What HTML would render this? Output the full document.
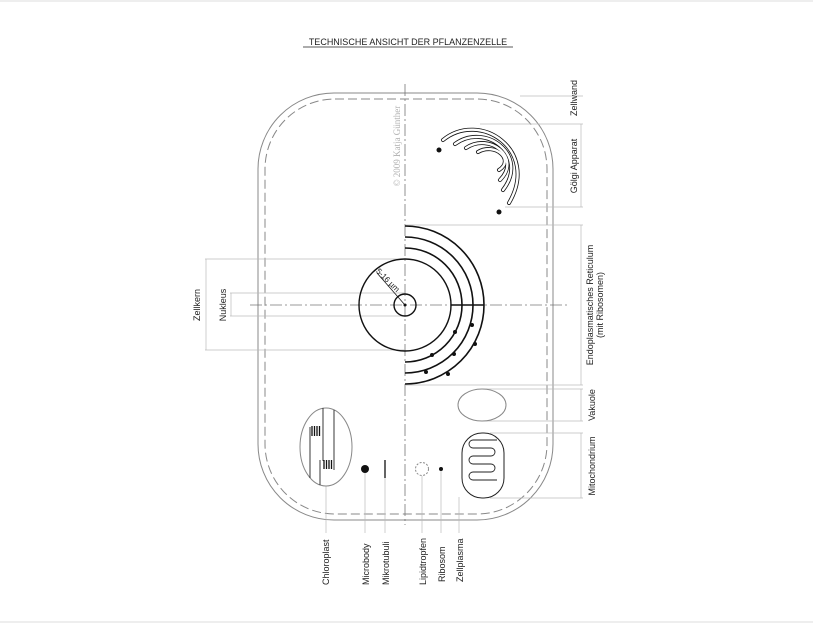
<!DOCTYPE html>
<html><head><style>
html,body{margin:0;padding:0;background:#fff}
svg{display:block}
text{font-family:"Liberation Sans",sans-serif;fill:#222}
</style></head><body>
<svg width="813" height="624" viewBox="0 0 813 624" xmlns="http://www.w3.org/2000/svg">
<line x1="0" y1="1" x2="813" y2="1" stroke="#ddd"/>
<line x1="0" y1="622" x2="813" y2="622" stroke="#ddd"/>
<text x="408" y="45" font-size="9" text-anchor="middle">TECHNISCHE ANSICHT DER PFLANZENZELLE</text>
<line x1="303" y1="47" x2="513" y2="47" stroke="#222" stroke-width="0.8"/>

<rect x="258" y="93" width="295" height="427" rx="76" fill="none" stroke="#888" stroke-width="1"/>
<rect x="265" y="99" width="282" height="415" rx="70" fill="none" stroke="#888" stroke-width="1" stroke-dasharray="9,4"/>
<line x1="405" y1="84" x2="405" y2="525" stroke="#777" stroke-width="0.8" stroke-dasharray="12,3,2,3"/>
<line x1="250" y1="305" x2="570" y2="305" stroke="#777" stroke-width="0.8" stroke-dasharray="12,3,2,3"/>
<text transform="translate(400,146) rotate(-90)" font-size="9" text-anchor="middle" style="font-family:'Liberation Serif',serif;fill:#b0b0b0">© 2009 Katja Günther</text>

<g stroke="#bbb" stroke-width="0.7" fill="none">
<line x1="520" y1="96" x2="583" y2="96"/>
<line x1="480" y1="124" x2="583" y2="124"/>
<line x1="505" y1="207" x2="583" y2="207"/>
<line x1="405" y1="225" x2="583" y2="225"/>
<line x1="405" y1="385" x2="583" y2="385"/>
<line x1="482" y1="389" x2="583" y2="389"/>
<line x1="482" y1="421" x2="583" y2="421"/>
<line x1="490" y1="433" x2="583" y2="433"/>
<line x1="490" y1="498" x2="583" y2="498"/>
<line x1="581" y1="124" x2="581" y2="207"/>
<line x1="581" y1="225" x2="581" y2="385"/>
<line x1="581" y1="389" x2="581" y2="421"/>
<line x1="581" y1="433" x2="581" y2="498"/>
<line x1="205" y1="259" x2="405" y2="259"/>
<line x1="205" y1="350" x2="405" y2="350"/>
<line x1="206" y1="259" x2="206" y2="350"/>
<line x1="230" y1="293" x2="405" y2="293"/>
<line x1="230" y1="316" x2="405" y2="316"/>
<line x1="231" y1="293" x2="231" y2="316"/>
<line x1="326" y1="486" x2="326" y2="533"/>
<line x1="365" y1="469" x2="365" y2="533"/>
<line x1="385" y1="478" x2="385" y2="533"/>
<line x1="422" y1="476" x2="422" y2="533"/>
<line x1="441" y1="469" x2="441" y2="533"/>
<line x1="459" y1="497" x2="459" y2="533"/>
</g>

<circle cx="405" cy="305" r="46" fill="none" stroke="#111" stroke-width="1.4"/>
<circle cx="405" cy="305" r="11" fill="none" stroke="#111" stroke-width="1.4"/>
<circle cx="405" cy="305" r="1.5" fill="#111"/>
<line x1="405" y1="305" x2="377" y2="273" stroke="#111" stroke-width="0.8"/>
<text transform="translate(386,282) rotate(45)" font-size="8" text-anchor="middle">5-16 µm</text>
<g fill="none" stroke="#111" stroke-width="1.6">
<path d="M405,248 A57,57 0 0 1 405,362"/>
<path d="M405,237 A68,68 0 0 1 405,373"/>
<path d="M405,226 A79,79 0 0 1 405,384"/>
<line x1="451" y1="305" x2="484" y2="305"/>
</g>
<g fill="#111">
<circle cx="455" cy="332" r="2"/><circle cx="472" cy="325" r="2"/>
<circle cx="475" cy="344" r="2"/><circle cx="454" cy="354" r="2"/>
<circle cx="432" cy="355" r="2"/><circle cx="426" cy="372" r="2"/>
<circle cx="448" cy="374" r="2"/>
</g>
<g fill="none">
<g stroke="#111" stroke-width="4" stroke-linecap="round">
<path d="M443,140 C480,110 540,150 509,203"/>
<path d="M455,144 C485,122 530,155 503,190"/>
<path d="M466,148 C490,132 522,158 500,180"/>
<path d="M478,152 C495,142 515,160 499,170"/>
</g>
<g stroke="#fff" stroke-width="2.4" stroke-linecap="round">
<path d="M443,140 C480,110 540,150 509,203"/>
<path d="M455,144 C485,122 530,155 503,190"/>
<path d="M466,148 C490,132 522,158 500,180"/>
<path d="M478,152 C495,142 515,160 499,170"/>
</g>
</g>
<circle cx="439" cy="150" r="2.5" fill="#111"/>
<circle cx="499" cy="212" r="2.5" fill="#111"/>
<ellipse cx="482" cy="405" rx="24" ry="16" fill="none" stroke="#888"/>
<rect x="462" y="433" width="42" height="65" rx="20" fill="none" stroke="#222" stroke-width="1"/>
<path d="M497,440 H473 a4,4 0 0 0 0,8 H491 a4,4 0 0 1 0,8 H473 a4,4 0 0 0 0,8 H491 a4,4 0 0 1 0,8 H473 a4,4 0 0 0 0,8 H497" fill="none" stroke="#222" stroke-width="0.9"/>
<ellipse cx="326" cy="447" rx="26" ry="39" fill="none" stroke="#888"/>
<g stroke="#222" stroke-width="0.9">
<line x1="323" y1="408" x2="323" y2="461"/>
<line x1="334" y1="410" x2="334" y2="470"/>
<line x1="310" y1="427" x2="310" y2="478"/>
<line x1="320" y1="460" x2="320" y2="485"/>
</g>
<g stroke="#111" stroke-width="1.3">
<line x1="312" y1="426" x2="312" y2="436"/><line x1="314.5" y1="426" x2="314.5" y2="436"/><line x1="317" y1="426" x2="317" y2="436"/><line x1="319.5" y1="426" x2="319.5" y2="436"/>
<line x1="324" y1="460" x2="324" y2="469"/><line x1="326.5" y1="460" x2="326.5" y2="469"/><line x1="329" y1="460" x2="329" y2="469"/><line x1="331.5" y1="460" x2="331.5" y2="469"/>
</g>
<circle cx="365" cy="469" r="4" fill="#111"/>
<line x1="385" y1="460" x2="385" y2="478" stroke="#111" stroke-width="1.3"/>
<circle cx="422" cy="469" r="6.5" fill="none" stroke="#888" stroke-dasharray="2,1.5"/>
<circle cx="441" cy="469" r="2" fill="#111"/>

<g font-size="9">
<text transform="translate(577,98) rotate(-90)" text-anchor="middle">Zellwand</text>
<text transform="translate(577,166) rotate(-90)" text-anchor="middle">Gölgi Apparat</text>
<text transform="translate(593,305) rotate(-90)" text-anchor="middle">Endoplasmatisches Reticulum</text>
<text transform="translate(603,305) rotate(-90)" text-anchor="middle">(mit Ribosomen)</text>
<text transform="translate(595,405) rotate(-90)" text-anchor="middle">Vakuole</text>
<text transform="translate(595,466) rotate(-90)" text-anchor="middle">Mitochondrium</text>
<text transform="translate(200,305) rotate(-90)" text-anchor="middle">Zellkern</text>
<text transform="translate(226,305) rotate(-90)" text-anchor="middle">Nukleus</text>
<text transform="translate(329,585) rotate(-90)">Chloroplast</text>
<text transform="translate(369,585) rotate(-90)">Microbody</text>
<text transform="translate(389,585) rotate(-90)">Mikrotubuli</text>
<text transform="translate(426,585) rotate(-90)">Lipidtropfen</text>
<text transform="translate(445,582) rotate(-90)">Ribosom</text>
<text transform="translate(463,582) rotate(-90)">Zellplasma</text>
</g>
</svg>
</body></html>
